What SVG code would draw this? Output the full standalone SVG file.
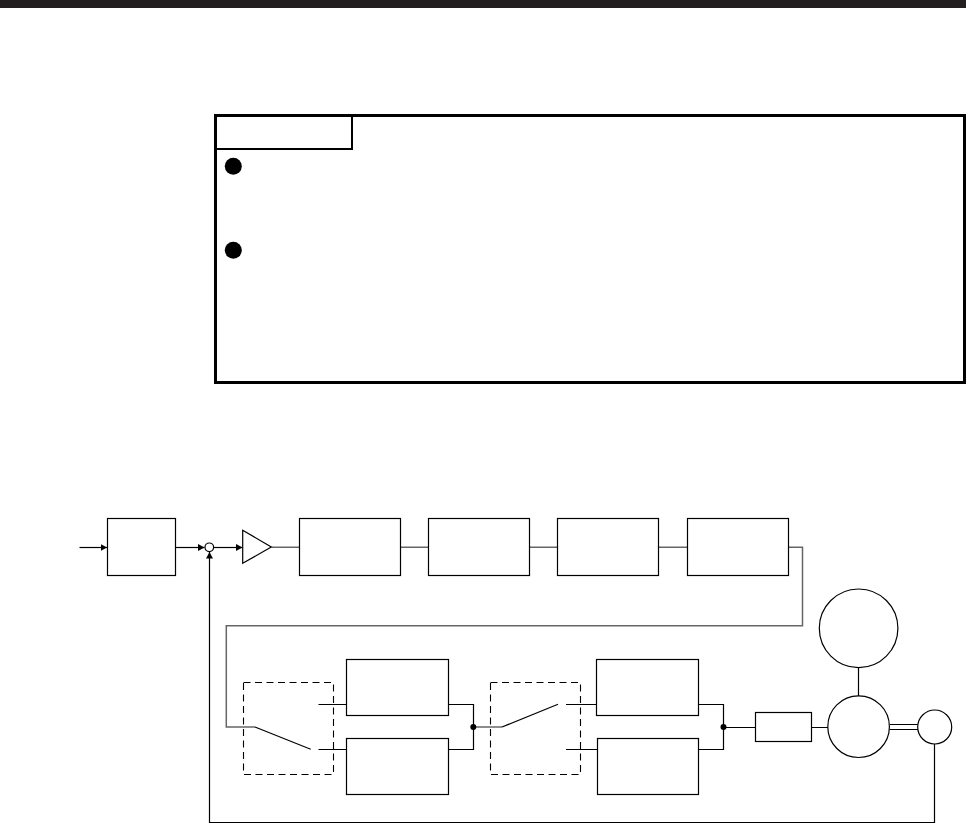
<svg xmlns="http://www.w3.org/2000/svg" width="966" height="823" viewBox="0 0 966 823">
<style>
.n{fill:#fff;stroke:#000;stroke-width:1.2}
.c{fill:none;stroke:#000;stroke-width:1.2}
.g{fill:none;stroke:#666;stroke-width:1.5}
.d{fill:none;stroke:#000;stroke-width:1.1;stroke-dasharray:7 4.5}
.f{fill:none;stroke:#000;stroke-width:3}
</style>
<defs>
<marker id="a" markerUnits="userSpaceOnUse" markerWidth="8" markerHeight="8" refX="6.5" refY="3.5" orient="auto"><path d="M0 0L6.500 3.500L0 7Z" fill="#000"/></marker>
</defs>
<rect x="0" y="0" width="966" height="8" fill="#231f20"/>
<g id="note">
<rect class="f" x="215.500" y="115.500" width="749" height="267"/>
<path d="M215.500 149H352V115.500" fill="none" stroke="#000" stroke-width="2"/>
<circle cx="233.300" cy="166.300" r="8.500"/>
<circle cx="233.300" cy="250.300" r="8.500"/>
</g>
<g id="connectors">
<path class="c" d="M79.500 547.500H107" marker-end="url(#a)"/>
<path class="c" d="M175.500 547.500H204.500" marker-end="url(#a)"/>
<path class="c" d="M214 547.500H242.500" marker-end="url(#a)"/>
<path class="g" d="M271.500 547.200H299.500M400.500 547.200H428.500M529.500 547.200H557.500M658.500 547.200H687.500"/>
<path class="g" d="M788.500 547.200H802.500V625.700H226.300V727H255"/>
<path class="c" d="M255 727L310.700 749.300"/>
<path class="c" d="M318.500 704.500H346.500M318.500 749.500H346.500"/>
<path class="c" d="M448.500 704.500H473.500V749.500H448.500"/>
<path class="g" d="M473.500 727H502"/>
<path class="c" d="M502 727L558 704.300"/>
<path class="c" d="M566 704.500H596.500M566 749.500H597.500"/>
<path class="c" d="M698.500 704.500H723.500V749.500H698.500M723.500 727.500H755.500M811.500 727.500H828"/>
<path class="c" d="M858.500 667.500V696M889.500 724.500H918M889.500 729.500H918"/>
<path class="c" d="M934.500 744V822.500H209.500V552" marker-end="url(#a)"/>
<circle cx="473.300" cy="727" r="3"/>
<circle cx="723.500" cy="727" r="3"/>
<rect class="d" x="243.500" y="682.500" width="90" height="92"/>
<rect class="d" x="490.500" y="682.500" width="90" height="92"/>
</g>
<g id="box1"><rect class="n" x="107.500" y="518.500" width="68" height="57"/></g>
<g id="sum"><circle class="n" cx="209.300" cy="547.300" r="4.300"/></g>
<g id="amp"><path class="n" d="M242.700 530.300L271.300 547L242.700 563.300Z"/></g>
<g id="box2"><rect class="n" x="299.500" y="518.500" width="101" height="57"/></g>
<g id="box3"><rect class="n" x="428.500" y="518.500" width="101" height="57"/></g>
<g id="box4"><rect class="n" x="557.500" y="518.500" width="101" height="57"/></g>
<g id="box5"><rect class="n" x="687.500" y="518.500" width="101" height="57"/></g>
<g id="boxA"><rect class="n" x="346.500" y="659.500" width="102" height="56"/></g>
<g id="boxB"><rect class="n" x="346.500" y="738.500" width="102" height="56"/></g>
<g id="boxC"><rect class="n" x="596.500" y="659.500" width="102" height="56"/></g>
<g id="boxD"><rect class="n" x="597.500" y="738.500" width="101" height="56"/></g>
<g id="boxE"><rect class="n" x="755.500" y="712.500" width="56" height="29"/></g>
<g id="load"><circle class="n" cx="858.600" cy="628.300" r="39.300"/></g>
<g id="motor"><circle class="n" cx="858.600" cy="726.700" r="30.800"/></g>
<g id="encoder"><circle class="n" cx="934.700" cy="727" r="17"/></g>
</svg>
